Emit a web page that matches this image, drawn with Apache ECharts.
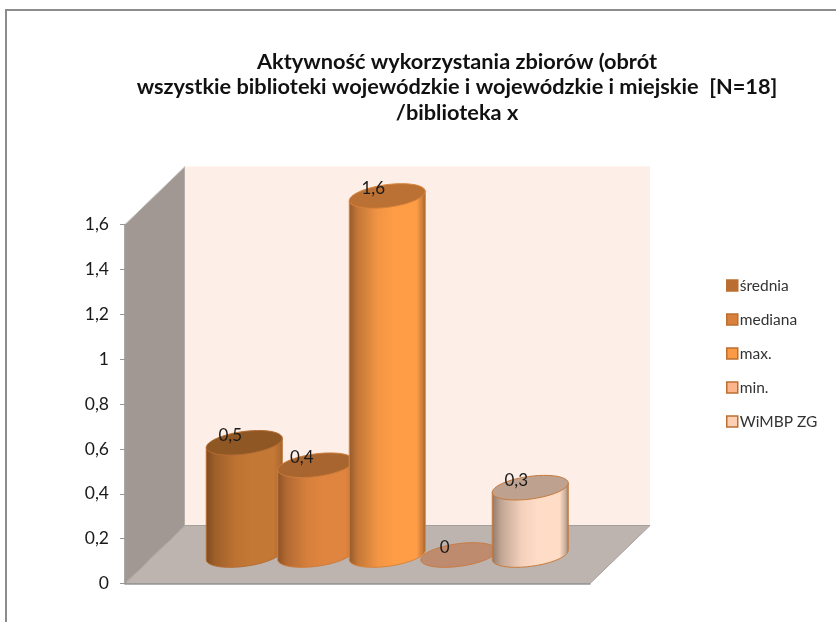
<!DOCTYPE html>
<html>
<head>
<meta charset="utf-8" />
<title>Aktywność wykorzystania zbiorów</title>
<script src="https://cdn.jsdelivr.net/npm/echarts@6/dist/echarts.min.js"></script>
<style>
  html, body { margin: 0; padding: 0; background: #fff; }
  #chart { width: 836px; height: 622px; }
</style>
</head>
<body>
<div id="chart"></div>
<script>
// dane
const seriesNames = ["średnia", "mediana", "max.", "min.", "WiMBP ZG"];
const seriesValues = [0.5, 0.4, 1.6, 0, 0.3];
const axisMax = 1.6;
const axisStep = 0.2;

// kolory walców: krawedz, srodek, prawa strona, gora, obrys, legenda
const palette = [
  { edge: "#7f4a20", mid: "#c47835", right: "#a05f2a", top: "#8f5724", line: "#b56d33", legend: "#b96d33" },
  { edge: "#8c5227", mid: "#e0853f", right: "#b86d35", top: "#a8652f", line: "#cc7c3b", legend: "#d9803c" },
  { edge: "#94592a", mid: "#ff9d47", right: "#94592a", top: "#bb7134", line: "#d98439", legend: "#fb9a45" },
  { edge: "#c08b70", mid: "#ffb88f", right: "#c08b70", top: "#bf8b6f", line: "#c97c40", legend: "#fdb58c" },
  { edge: "#8f7869", mid: "#ffdcc6", right: "#8f7b6c", top: "#bfa18f", line: "#c67b3c", legend: "#fdcfb5" },
];

const DEPTH_X = 60;
const DEPTH_Y = 58;

// elipsa przechylona jak podstawa walca
const RX = 38.3;
const RY = 11.3;
const TILT = (7.7 * Math.PI) / 180;

function ellipsePoint(cx, cy, t) {
  const x = RX * Math.cos(t);
  const y = RY * Math.sin(t);
  return [
    cx + x * Math.cos(TILT) + y * Math.sin(TILT),
    cy - x * Math.sin(TILT) + y * Math.cos(TILT),
  ];
}

function ellipseArc(cx, cy, from, to) {
  const pts = [];
  for (let i = 0; i <= 48; i++) {
    pts.push(ellipsePoint(cx, cy, from + ((to - from) * i) / 48));
  }
  return pts;
}

function renderWalls(params, api) {
  const bottomLeft = api.coord([0, 0]);
  const topLeft = api.coord([0, axisMax]);
  const bottomRight = [params.coordSys.x + params.coordSys.width, bottomLeft[1]];
  const back = (p) => [p[0] + DEPTH_X, p[1] - DEPTH_Y];
  return {
    type: "group",
    children: [
      {
        type: "polygon",
        shape: { points: [topLeft, back(topLeft), back(bottomLeft), bottomLeft] },
        style: { fill: "#a19894", stroke: "#c9c5c3", lineWidth: 1 },
      },
      {
        type: "rect",
        shape: {
          x: back(topLeft)[0],
          y: back(topLeft)[1],
          width: bottomRight[0] - bottomLeft[0],
          height: bottomLeft[1] - topLeft[1],
        },
        style: { fill: "#fdeee7" },
      },
      {
        type: "polygon",
        shape: { points: [bottomLeft, bottomRight, back(bottomRight), back(bottomLeft)] },
        style: { fill: "#bdb3af", stroke: "#a3a09e", lineWidth: 1 },
      },
    ],
  };
}

function renderCylinder(params, api) {
  const c = palette[params.seriesIndex - 1];
  const value = api.value(1);
  const top = api.coord([api.value(0), value]);
  const base = api.coord([api.value(0), 0]);
  const children = [];
  if (value > 0) {
    // bok walca: gorna krawedz i dolna polowa podstawy
    const tangent = Math.atan2(RY * Math.sin(TILT), RX * Math.cos(TILT));
    const bottom = ellipseArc(base[0], base[1], tangent, Math.PI + tangent);
    const left = ellipsePoint(top[0], top[1], Math.PI + tangent);
    const right = ellipsePoint(top[0], top[1], tangent);
    const lerp = echarts.color.lerp;
    children.push({
      type: "polygon",
      shape: { points: [right].concat(bottom, [left]) },
      style: {
        fill: new echarts.graphic.LinearGradient(0, 0, 1, 0, [
          { offset: 0, color: c.edge },
          { offset: 0.12, color: lerp(0.45, [c.edge, c.mid]) },
          { offset: 0.38, color: lerp(0.88, [c.edge, c.mid]) },
          { offset: 0.6, color: c.mid },
          { offset: 0.88, color: c.mid },
          { offset: 0.96, color: lerp(0.5, [c.mid, c.right]) },
          { offset: 1, color: c.right },
        ]),
        stroke: c.line,
        lineWidth: 1,
      },
    });
  }
  children.push({
    type: "polygon",
    shape: { points: ellipseArc(top[0], top[1], 0, Math.PI * 2) },
    style: { fill: c.top, stroke: c.line, lineWidth: 1 },
  });
  children.push({
    type: "text",
    style: {
      x: top[0] - 14,
      y: top[1] - 7.5,
      text: String(value).replace(".", ","),
      fill: "#1a1a1a",
      font: "17px Lato",
      align: "center",
      verticalAlign: "middle",
    },
  });
  return { type: "group", children: children };
}

const chart = echarts.init(document.getElementById("chart"), null, { renderer: "canvas" });

chart.setOption({
  animation: false,
  title: {
    text:
      "Aktywność wykorzystania zbiorów (obrót\n" +
      "wszystkie biblioteki wojewódzkie i wojewódzkie i miejskie  [N=18]\n" +
      "/biblioteka x",
    left: 452,
    top: 44,
    textAlign: "center",
    textStyle: {
      fontFamily: "Lato",
      fontWeight: "bold",
      fontSize: 21.75,
      lineHeight: 25.5,
      color: "#111",
    },
  },
  legend: {
    orient: "vertical",
    left: 721,
    top: 272,
    icon: "rect",
    itemWidth: 11,
    itemHeight: 11,
    itemGap: 17,
    textStyle: { fontFamily: "Lato", fontSize: 15.5, color: "#333", padding: [0, 0, 0, -3], lineHeight: 17 },
    data: seriesNames.map((name, i) => ({
      name: name,
      itemStyle: { color: palette[i].legend, borderColor: "#bb6f30", borderWidth: 1.5 },
    })),
  },
  graphic: [
    {
      type: "polyline",
      shape: { points: [[6, 622], [6, 10], [836, 10]] },
      style: { fill: null, stroke: "#8c8c8c", lineWidth: 2 },
      silent: true,
    },
  ],
  grid: [
    // przednia krawedz z osia wartosci
    { left: 125, top: 224.5, width: 465, height: 359 },
    // walce stoja w srodku glebokosci podlogi
    { left: 208.5, top: 196, width: 357.5, height: 359 },
  ],
  xAxis: [
    {
      gridIndex: 0,
      type: "value",
      min: 0,
      max: 1,
      splitLine: { show: false },
      axisTick: { show: false },
      axisLabel: { show: false },
      axisLine: { show: true, lineStyle: { color: "#969696", width: 1.5 } },
    },
    {
      gridIndex: 1,
      type: "category",
      data: seriesNames,
      show: false,
    },
  ],
  yAxis: [
    {
      gridIndex: 0,
      type: "value",
      min: 0,
      max: axisMax,
      interval: axisStep,
      splitLine: { show: false },
      axisLine: { show: true, onZero: false, lineStyle: { color: "#969696", width: 1.5 } },
      axisTick: { show: true, length: 5, lineStyle: { color: "#969696" } },
      axisLabel: {
        margin: 16,
        fontFamily: "Lato",
        fontSize: 17.5,
        color: "#1a1a1a",
        formatter: (v) => String(Math.round(v * 10) / 10).replace(".", ","),
      },
    },
    {
      gridIndex: 1,
      type: "value",
      min: 0,
      max: axisMax,
      show: false,
    },
  ],
  series: [
    {
      type: "custom",
      name: "walls",
      xAxisIndex: 0,
      yAxisIndex: 0,
      silent: true,
      clip: false,
      z: 0,
      data: [[0, 0]],
      renderItem: renderWalls,
    },
  ].concat(
    seriesNames.map((name, i) => ({
      type: "custom",
      name: name,
      xAxisIndex: 1,
      yAxisIndex: 1,
      clip: false,
      z: 3 + i,
      itemStyle: { color: palette[i].legend },
      encode: { x: 0, y: 1 },
      data: [[name, seriesValues[i]]],
      renderItem: renderCylinder,
    }))
  ),
});

window.addEventListener("resize", () => chart.resize());
</script>
</body>
</html>
